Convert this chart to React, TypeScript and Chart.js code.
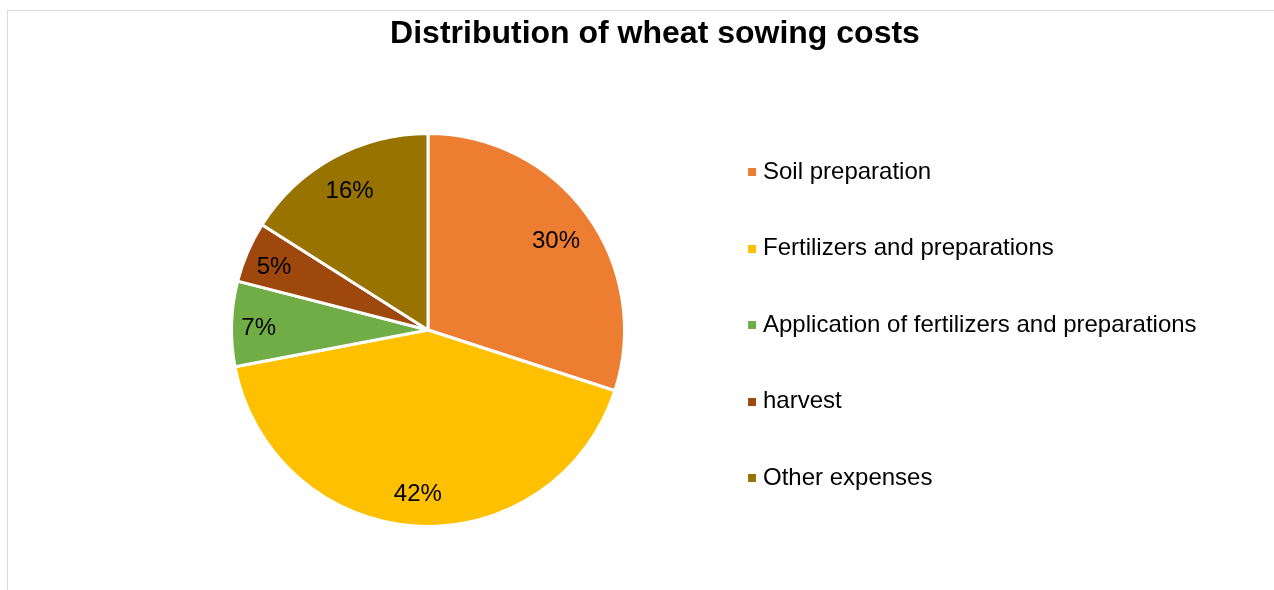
import React, { useEffect, useRef } from "react";
import { Chart, registerables } from "chart.js";

Chart.register(...registerables);

const categories = [
  "Soil preparation",
  "Fertilizers and preparations",
  "Application of fertilizers and preparations",
  "harvest",
  "Other expenses",
];
const shares = [30, 42, 7, 5, 16];
const sliceColors = ["#ED7D31", "#FFC000", "#70AD47", "#9E480E", "#997300"];
const chartTitle = "Distribution of wheat sowing costs";

// how far out (share of the radius) each percentage label sits
const labelDepth = [0.805, 0.82, 0.862, 0.854, 0.828];

const FONT = "'Liberation Sans', Arial, Helvetica, sans-serif";

const sliceLabels = {
  id: "sliceLabels",
  afterDatasetsDraw(chart: any) {
    const meta = chart.getDatasetMeta(0);
    const data: number[] = chart.data.datasets[0].data;
    const total = data.reduce((a, b) => a + b, 0);
    const ctx = chart.ctx;
    ctx.save();
    ctx.font = `24px ${FONT}`;
    ctx.fillStyle = "#000";
    ctx.textAlign = "center";
    ctx.textBaseline = "middle";
    meta.data.forEach((arc: any, i: number) => {
      const p = arc.getProps(["x", "y", "startAngle", "endAngle", "outerRadius"], true);
      const mid = (p.startAngle + p.endAngle) / 2;
      const r = p.outerRadius * labelDepth[i];
      ctx.fillText(
        `${Math.round((data[i] / total) * 100)}%`,
        p.x + Math.cos(mid) * r,
        p.y + Math.sin(mid) * r + 4
      );
    });
    ctx.restore();
  },
};

// let the legend draw its long labels past its own narrow box
const legendRoom = {
  id: "legendRoom",
  afterLayout(chart: any) {
    const lg = chart.legend;
    if (lg) {
      lg.right = chart.width;
      lg.width = lg.right - lg.left;
    }
  },
};

function swatch(color: string): HTMLCanvasElement {
  const c = document.createElement("canvas");
  c.width = 10;
  c.height = 8;
  const g = c.getContext("2d")!;
  g.fillStyle = color;
  g.fillRect(2, 0, 8, 8);
  return c;
}

export default function App() {
  const ref = useRef<HTMLCanvasElement | null>(null);

  useEffect(() => {
    if (!ref.current) return;
    const baseLabels = (Chart as any).overrides.pie.plugins.legend.labels.generateLabels;
    const chart = new Chart(ref.current, {
      type: "pie",
      data: {
        labels: categories,
        datasets: [
          {
            data: shares,
            backgroundColor: sliceColors,
            borderColor: "#ffffff",
            borderWidth: 3,
            radius: 196.5,
          } as any,
        ],
      },
      options: {
        responsive: false,
        animation: false,
        layout: { padding: { left: 157.5, right: 121.5, top: 0, bottom: -60 } },
        plugins: {
          title: {
            display: true,
            text: chartTitle,
            color: "#000",
            font: { family: FONT, size: 32, weight: "bold" },
            padding: { top: 14.5, bottom: 17.1 },
          },
          legend: {
            position: "right",
            fullSize: true,
            maxWidth: 454,
            labels: {
              usePointStyle: true,
              boxWidth: 0.01,
              boxHeight: 8,
              padding: 52.5,
              color: "#000",
              font: { family: FONT, size: 24 },
              generateLabels(c: any) {
                return baseLabels(c).map((it: any, i: number) => ({
                  ...it,
                  pointStyle: swatch(sliceColors[i]),
                  lineWidth: 0,
                }));
              },
            },
          },
          tooltip: { enabled: false },
        },
      } as any,
      plugins: [sliceLabels, legendRoom],
    });
    return () => chart.destroy();
  }, []);

  return (
    <div>
      <div
        style={{
          position: "fixed",
          left: 7,
          top: 10,
          width: 1400,
          height: 700,
          borderLeft: "1px solid #d9d9d9",
          borderTop: "1px solid #d9d9d9",
          boxSizing: "border-box",
        }}
      />
      <canvas
        ref={ref}
        width={1274}
        height={590}
        style={{ position: "fixed", left: 0, top: 0, width: 1274, height: 590 }}
      />
    </div>
  );
}
